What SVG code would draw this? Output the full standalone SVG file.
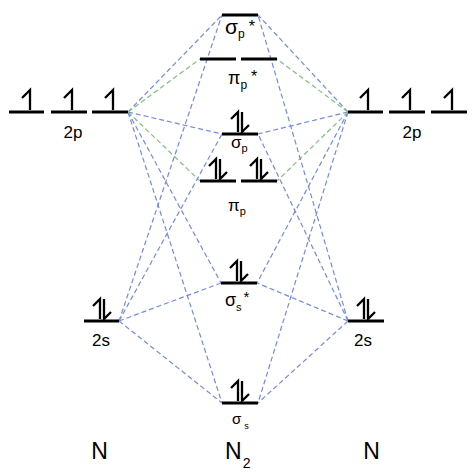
<svg xmlns="http://www.w3.org/2000/svg" xmlns:xlink="http://www.w3.org/1999/xlink" width="474" height="472" viewBox="0 0 474 472">
<style>
.lvl{stroke:#000;stroke-width:3;fill:none}
.ar{stroke:#000;stroke-width:2.3;fill:none;stroke-linejoin:miter}
.b{stroke:#7489e6;stroke-width:1.2;stroke-dasharray:5 3;fill:none}
.g{stroke:#7fbf7f;stroke-width:1.2;stroke-dasharray:5 3;fill:none}
text{font-family:"Liberation Sans",Arial,sans-serif;fill:#000}
</style>
<defs>
<path id="up" d="M3,-2 V-22 L-5,-14" class="ar"/>
<path id="pair" d="M-2,-2 V-22 L-9,-15 M2,-22 V-2 L9,-9" class="ar"/>
</defs>
<rect width="474" height="472" fill="#fff"/>
<g id="connectors">
<path class="b" d="M128,112 L222,15 M128,112 L222,134 M128,112 L221,283 M128,112 L222,403"/>
<path class="g" d="M128,112 L200,59 M128,112 L200,181"/>
<path class="b" d="M119,321 L222,15 M119,321 L222,134 M119,321 L221,283 M119,321 L222,403"/>
<path class="b" d="M348,112 L258,15 M348,112 L258,134 M348,112 L257,283 M348,112 L258,403"/>
<path class="g" d="M348,112 L277,59 M348,112 L277,181"/>
<path class="b" d="M348,321 L258,15 M348,321 L258,134 M348,321 L257,283 M348,321 L258,403"/>
</g>
<g id="left-2p">
<path class="lvl" d="M9,112 H44 M51,112 H87 M92,112 H128"/>
<use xlink:href="#up" x="27" y="112"/>
<use xlink:href="#up" x="69" y="112"/>
<use xlink:href="#up" x="110" y="112"/>
<text x="73" y="138" font-size="17" text-anchor="middle">2p</text>
</g>
<g id="right-2p">
<path class="lvl" d="M348,112 H383 M389,112 H425 M431,112 H467"/>
<use xlink:href="#up" x="365" y="112"/>
<use xlink:href="#up" x="407" y="112"/>
<use xlink:href="#up" x="449" y="112"/>
<text x="412" y="138" font-size="17" text-anchor="middle">2p</text>
</g>
<g id="sigma-p-star">
<path class="lvl" d="M222,15 H258"/>
<text x="225" y="34" font-size="21">σ<tspan font-size="12" dy="4">p</tspan><tspan font-size="16" dx="4" dy="-6">*</tspan></text>
</g>
<g id="pi-p-star">
<path class="lvl" d="M200,59 H236 M241,59 H277"/>
<text x="228" y="84" font-size="18">π<tspan font-size="12" dy="5">p</tspan><tspan font-size="16" dx="4" dy="-7">*</tspan></text>
</g>
<g id="sigma-p">
<path class="lvl" d="M222,134 H258"/>
<use xlink:href="#pair" x="240" y="134"/>
<text x="231" y="148" font-size="17">σ<tspan font-size="11" dy="4">p</tspan></text>
</g>
<g id="pi-p">
<path class="lvl" d="M200,181 H236 M241,181 H277"/>
<use xlink:href="#pair" x="218" y="181"/>
<use xlink:href="#pair" x="259" y="181"/>
<text x="228" y="211" font-size="17">π<tspan font-size="11" dy="4">p</tspan></text>
</g>
<g id="sigma-s-star">
<path class="lvl" d="M221,283 H257"/>
<use xlink:href="#pair" x="239" y="283"/>
<text x="225" y="306" font-size="18">σ<tspan font-size="11" dy="5">s</tspan><tspan font-size="15" dx="2" dy="-9">*</tspan></text>
</g>
<g id="sigma-s">
<path class="lvl" d="M222,403 H258"/>
<use xlink:href="#pair" x="240" y="403"/>
<text x="232" y="424" font-size="15">σ<tspan font-size="9" dx="3" dy="5">s</tspan></text>
</g>
<g id="left-2s">
<path class="lvl" d="M84,321 H119"/>
<use xlink:href="#pair" x="102" y="321"/>
<text x="101" y="346" font-size="17" text-anchor="middle">2s</text>
</g>
<g id="right-2s">
<path class="lvl" d="M348,321 H384"/>
<use xlink:href="#pair" x="366" y="321"/>
<text x="363" y="346" font-size="17" text-anchor="middle">2s</text>
</g>
<g id="labels">
<text x="99.5" y="459" font-size="23" text-anchor="middle">N</text>
<text x="225" y="459" font-size="23">N<tspan font-size="14" dx="1" dy="9">2</tspan></text>
<text x="371.5" y="459" font-size="23" text-anchor="middle">N</text>
</g>
</svg>
